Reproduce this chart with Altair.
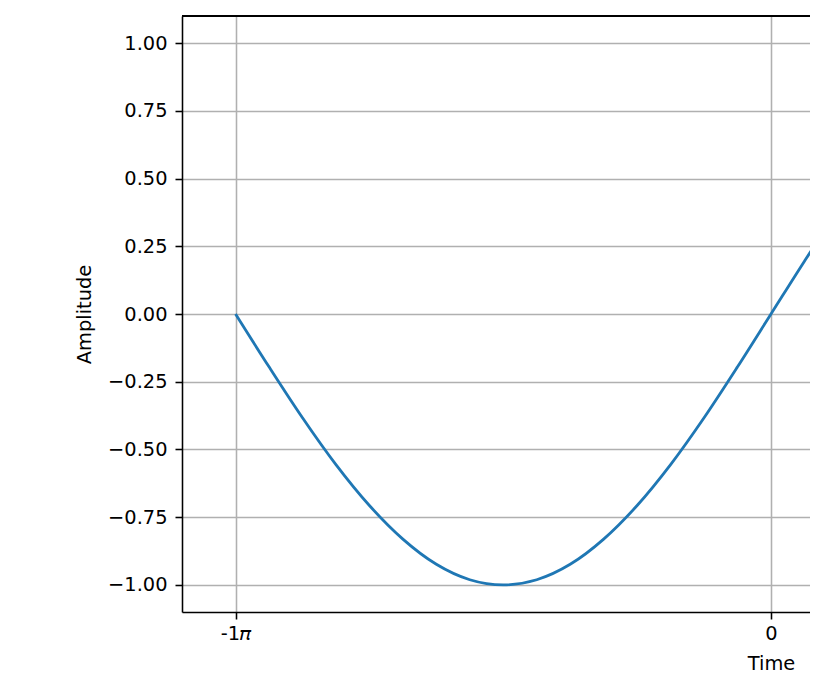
import altair as alt
import pandas as pd

# time in units of pi, amplitude
time_pi = [-1.0, -0.9375, -0.875, -0.8125, -0.75, -0.6875, -0.625, -0.5625, -0.5,
           -0.4375, -0.375, -0.3125, -0.25, -0.1875, -0.125, -0.0625, 0.0,
           0.0625, 0.125, 0.1875, 0.25, 0.3125, 0.375, 0.4375, 0.5,
           0.5625, 0.625, 0.6875, 0.75, 0.8125, 0.875, 0.9375, 1.0]
amplitude = [0.0, -0.195, -0.383, -0.556, -0.707, -0.831, -0.924, -0.981, -1.0,
             -0.981, -0.924, -0.831, -0.707, -0.556, -0.383, -0.195, 0.0,
             0.195, 0.383, 0.556, 0.707, 0.831, 0.924, 0.981, 1.0,
             0.981, 0.924, 0.831, 0.707, 0.556, 0.383, 0.195, 0.0]
x_ticks = [-1, 0]
y_ticks = [-1.0, -0.75, -0.5, -0.25, 0.0, 0.25, 0.5, 0.75, 1.0]

df = pd.DataFrame({"t": time_pi, "a": amplitude})

FONT = "DejaVu Sans"
FS = 19.4
LW = 1.56

# visible window is cut at the right edge of the page
x_scale = alt.Scale(domain=[-1.1, 0.0878], nice=False, zero=False)
y_scale = alt.Scale(domain=[-1.1, 1.1], nice=False, zero=False)

line = alt.Chart(df).mark_line(color="#1f77b4", strokeWidth=2.8, interpolate="monotone", clip=True).encode(
    x=alt.X("t:Q", scale=x_scale,
            axis=alt.Axis(title="Time", values=x_ticks,
                          labelExpr="datum.value == 0 ? '0' : datum.value + '𝜋'",
                          grid=True, gridColor="#b0b0b0", gridWidth=LW,
                          domain=True, domainColor="black", domainWidth=LW,
                          tickColor="black", tickWidth=LW, tickSize=7,
                          labelPadding=5, labelFont=FONT, labelFontSize=FS, labelColor="black",
                          titleFont=FONT, titleFontSize=FS, titleFontWeight="normal",
                          titleColor="black", titlePadding=12, titleX=589)),
    y=alt.Y("a:Q", scale=y_scale,
            axis=alt.Axis(title="Amplitude", values=y_ticks, format=".2f",
                          grid=True, gridColor="#b0b0b0", gridWidth=LW,
                          domain=True, domainColor="black", domainWidth=LW,
                          tickColor="black", tickWidth=LW, tickSize=7,
                          labelPadding=8, labelFont=FONT, labelFontSize=FS, labelColor="black",
                          titleFont=FONT, titleFontSize=FS, titleFontWeight="normal",
                          titleColor="black", titlePadding=13)),
)

top_border = alt.Chart(df).mark_rule(color="black", strokeWidth=LW).encode(
    y=alt.datum(1.1, scale=y_scale)
)

chart = alt.layer(line, top_border).properties(
    width=636, height=596,
    autosize=alt.AutoSizeParams(type="none"),
    padding={"left": 174, "top": 8, "right": -8, "bottom": 64},
    background="white",
).configure_view(stroke=None)

chart.save("out.html", embed_options={"renderer": "svg", "actions": False})
